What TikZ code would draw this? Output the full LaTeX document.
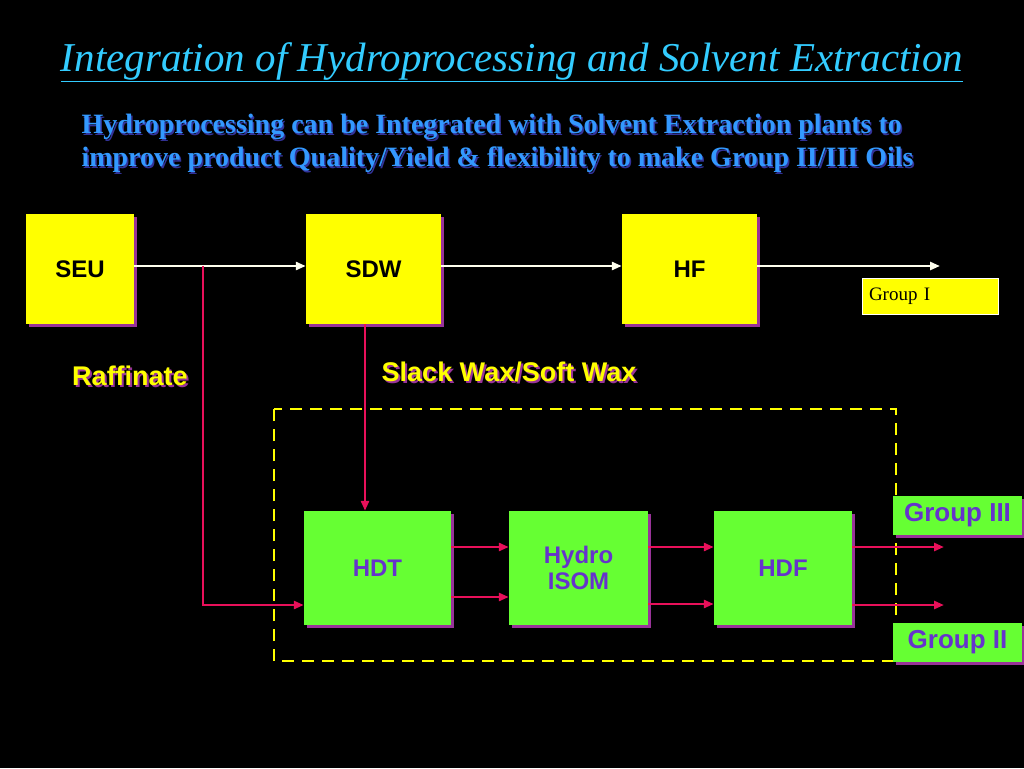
\documentclass[tikz,border=0pt]{standalone}
\usepackage{fontspec}
\setmainfont{Liberation Serif}
\setsansfont{Liberation Sans}
\usetikzlibrary{arrows.meta,shadows}
\definecolor{titlecyan}{HTML}{33CCFF}
\definecolor{subblue}{HTML}{3399FF}
\definecolor{subshadow}{HTML}{333399}
\definecolor{boxyellow}{HTML}{FFFF00}
\definecolor{boxgreen}{HTML}{66FF33}
\definecolor{shadowpurple}{HTML}{993399}
\definecolor{flowred}{HTML}{E8105A}
\definecolor{labelpurple}{HTML}{6633CC}
\definecolor{flowwhite}{HTML}{FFFFEE}
\tikzset{
  unit/.style={draw=none,minimum width=#1,font=\sffamily\bfseries\fontsize{24}{26}\selectfont,
    drop shadow={shadow xshift=3pt,shadow yshift=-3pt,fill=shadowpurple,opacity=1}},
  seubox/.style={unit=108pt,fill=boxyellow,minimum height=110pt,text=black},
  hpbox/.style={unit=#1,fill=boxgreen,minimum height=114pt,text=labelpurple,align=center},
  outbox/.style={fill=boxgreen,minimum width=129pt,minimum height=39pt,text=labelpurple,
    font=\sffamily\bfseries\fontsize{26}{28}\selectfont,
    drop shadow={shadow xshift=3pt,shadow yshift=-3pt,fill=shadowpurple,opacity=1}},
  wflow/.style={draw=flowwhite,line width=2.5pt,-{Triangle[length=10pt,width=8pt]}},
  rflow/.style={draw=flowred,line width=2.5pt,-{Triangle[length=10pt,width=8pt]}},
  shadowtext/.style={font=\sffamily\bfseries\fontsize{27}{29}\selectfont,text=boxyellow}
}
\newcommand{\shtext}[3]{%
  \node[shadowtext,text=shadowpurple] at ([xshift=2pt,yshift=-2pt]#2) {#3};
  \node[shadowtext] (#1) at (#2) {#3};}
\begin{document}
\begin{tikzpicture}[x=1pt,y=1pt]
\fill[black] (0,0) rectangle (1024,-768);
% Title
\node[text=titlecyan,font=\itshape\fontsize{41}{44}\selectfont] (title) at (512,-62)
  {\underline{Integration of Hydroprocessing and Solvent Extraction}};
\node[anchor=west,align=left,text=subshadow,font=\bfseries\fontsize{28}{33}\selectfont] at (79.5,-145)
  {Hydroprocessing can be Integrated with Solvent Extraction plants to\\improve product Quality/Yield \& flexibility to make Group II/III Oils};
\node[anchor=west,align=left,text=subblue,font=\bfseries\fontsize{28}{33}\selectfont] (sub) at (78,-143.5)
  {Hydroprocessing can be Integrated with Solvent Extraction plants to\\improve product Quality/Yield \& flexibility to make Group II/III Oils};
% Solvent plants
\node[seubox] (seu) at (80,-269) {SEU};
\node[seubox,minimum width=135pt] (sdw) at (373.5,-269) {SDW};
\node[seubox,minimum width=135pt] (hf) at (689.5,-269) {HF};
\node[fill=boxyellow,draw=white,minimum width=136pt,minimum height=36pt,
  text=black,font=\fontsize{19}{21}\selectfont,text width=122pt,align=left] (g1) at (930,-296) {Group I};
\coordinate (hfout) at (940,-266);
\draw[wflow] (seu.east |- 0,-266) -- (sdw.west |- 0,-266);
\draw[wflow] (sdw.east |- 0,-266) -- (hf.west |- 0,-266);
\draw[wflow] (hf.east |- 0,-266) -- (hfout);
% Hydroprocessing block
\draw[boxyellow,line width=2.5pt,dash pattern=on 12pt off 8pt] (274,-409) rectangle (896,-661);
\node[hpbox=147pt] (hdt) at (377.5,-568) {HDT};
\node[hpbox=139pt] (isom) at (578.5,-568) {Hydro\\ISOM};
\node[hpbox=138pt] (hdf) at (783,-568) {HDF};
\node[outbox] (g3) at (957.5,-515.5) {Group III};
\node[outbox] (g2) at (957.5,-642.5) {Group II};
\shtext{raff}{130,-376}{Raffinate}
\shtext{slack}{509,-372}{Slack Wax/Soft Wax}
% Red flows
\coordinate (tap) at (203,-266);
\draw[rflow] (tap) |- (hdt.west |- 0,-605);
\draw[rflow] (sdw.south -| 365,0) -- (hdt.north -| 365,0);
\draw[rflow] (hdt.east |- 0,-547) -- (isom.west |- 0,-547);
\draw[rflow] (hdt.east |- 0,-597) -- (isom.west |- 0,-597);
\draw[rflow] (isom.east |- 0,-547) -- (hdf.west |- 0,-547);
\draw[rflow] (isom.east |- 0,-604) -- (hdf.west |- 0,-604);
\coordinate (out3) at (944,-547);
\coordinate (out2) at (944,-605);
\draw[rflow] (hdf.east |- out3) -- (out3);
\draw[rflow] (hdf.east |- out2) -- (out2);
\end{tikzpicture}
\end{document}
